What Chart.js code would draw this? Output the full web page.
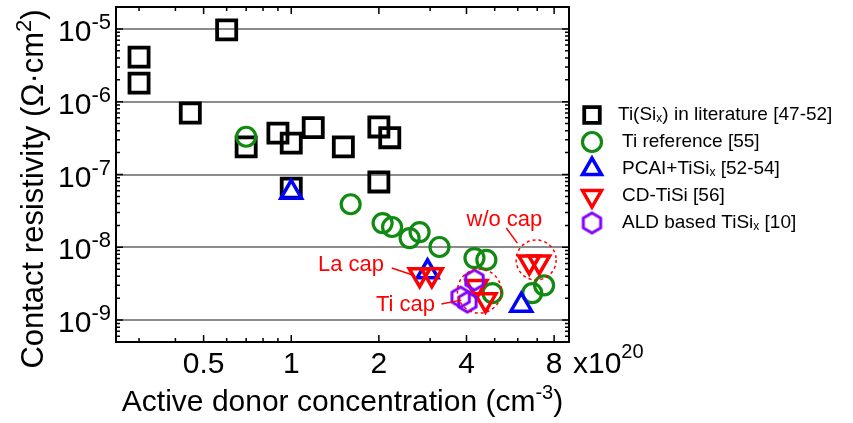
<!DOCTYPE html>
<html>
<head>
<meta charset="utf-8">
<script src="https://cdn.jsdelivr.net/npm/chart.js@4.4.1/dist/chart.umd.min.js"></script>
<style>
  html, body { margin: 0; padding: 0; background: #fff; }
  #wrap { width: 853px; height: 423px; position: relative; }
</style>
</head>
<body>
<div id="wrap"><canvas id="chart"></canvas></div>
<script>
// x in units of 1e20 cm^-3, y in ohm*cm^2
var seriesNames = ["Ti(Si_{x}) in literature [47-52]", "Ti reference [55]", "PCAI+TiSi_{x} [52-54]", "CD-TiSi [56]", "ALD based TiSi_{x} [10]"];

var litX = [0.30, 0.30, 0.60, 0.45, 0.70, 0.90, 1.00, 1.19, 1.51, 2.00, 2.18, 2.00, 1.00];
var litY = [4.1e-6, 1.8e-6, 9.7e-6, 7.0e-7, 2.4e-7, 3.7e-7, 2.7e-7, 4.4e-7, 2.4e-7, 4.5e-7, 3.2e-7, 7.9e-8, 6.5e-8];

var refX = [0.70, 1.60, 2.06, 2.22, 2.55, 2.76, 3.23, 4.26, 4.68, 4.91, 6.73, 7.39];
var refY = [3.3e-7, 3.9e-8, 2.15e-8, 1.9e-8, 1.34e-8, 1.62e-8, 1.01e-8, 7.1e-9, 6.7e-9, 2.35e-9, 2.35e-9, 3.0e-9];

var pcaiX = [1.00, 2.94, 6.17];
var pcaiY = [5.7e-8, 4.6e-9, 1.6e-9];

var cdX = [2.76, 3.04, 4.33, 4.65, 6.57, 7.11];
var cdY = [4.2e-9, 4.2e-9, 2.9e-9, 1.9e-9, 6.3e-9, 6.3e-9];

var aldX = [4.26, 3.82, 4.03];
var aldY = [3.55e-9, 2.07e-9, 1.77e-9];

var xTickValues = [0.3, 0.4, 0.5, 0.6, 0.7, 0.8, 0.9, 1, 2, 3, 4, 5, 6, 7, 8];
var xTickLabels = [0.5, 1, 2, 4, 8];
var yDecades = [-9, -8, -7, -6, -5];

var FONT = "'Liberation Sans', Arial, sans-serif";

function pts(xs, ys) {
  return xs.map(function(v, i) { return {x: v, y: ys[i]}; });
}

function hexagon(color, r, lw) {
  var c = document.createElement('canvas');
  var s = Math.ceil(2 * r + lw + 2);
  c.width = s; c.height = s;
  var g = c.getContext('2d');
  g.strokeStyle = color; g.lineWidth = lw;
  g.beginPath();
  for (var i = 0; i < 6; i++) {
    var a = Math.PI / 3 * i - Math.PI / 2;
    var px = s / 2 + r * Math.cos(a), py = s / 2 + r * Math.sin(a);
    if (i) g.lineTo(px, py); else g.moveTo(px, py);
  }
  g.closePath(); g.stroke();
  return c;
}
var hexStyle = hexagon('#8000ff', 10, 3);

function isDecade(v) {
  var l = Math.log10(v);
  return Math.abs(l - Math.round(l)) < 1e-6;
}

// text with ^{..} superscripts and _{..} subscripts
function drawRich(ctx, str, x, y, size, align, supScale, raise) {
  supScale = supScale || 0.65;
  raise = raise || 0.4;
  var parts = str.split(/(\^\{[^}]*\}|_\{[^}]*\})/).filter(function(p) { return p.length; });
  var items = parts.map(function(p) {
    var kind = p[0] === '^' ? 'sup' : (p[0] === '_' && p[1] === '{' ? 'sub' : 'n');
    var t = kind === 'n' ? p : p.slice(2, -1);
    var sz = kind === 'n' ? size : Math.round(size * supScale);
    ctx.font = sz + 'px ' + FONT;
    return {t: t, kind: kind, sz: sz, w: ctx.measureText(t).width};
  });
  var total = items.reduce(function(a, it) { return a + it.w; }, 0);
  var cx = align === 'center' ? x - total / 2 : (align === 'right' ? x - total : x);
  ctx.textAlign = 'left';
  items.forEach(function(it) {
    ctx.font = it.sz + 'px ' + FONT;
    var dy = it.kind === 'sup' ? -size * raise : (it.kind === 'sub' ? size * 0.22 : 0);
    ctx.fillText(it.t, cx, y + dy);
    cx += it.w;
  });
}

var decor = {
  id: 'decor',
  beforeDraw: function(chart) {
    var ctx = chart.ctx;
    ctx.save();
    ctx.fillStyle = '#fff';
    ctx.fillRect(0, 0, chart.width, chart.height);
    ctx.restore();
  },
  afterDatasetsDraw: function(chart) {
    var ctx = chart.ctx, a = chart.chartArea;
    var xs = chart.scales.x, ys = chart.scales.y;
    ctx.save();
    // inward tick marks on all four sides
    ctx.strokeStyle = '#000';
    ctx.lineWidth = 1.5;
    ctx.beginPath();
    xs.ticks.forEach(function(t) {
      var px = xs.getPixelForValue(t.value);
      var len = xTickLabels.indexOf(t.value) >= 0 ? 7 : 4;
      ctx.moveTo(px, a.bottom); ctx.lineTo(px, a.bottom - len);
      ctx.moveTo(px, a.top); ctx.lineTo(px, a.top + len);
    });
    ys.ticks.forEach(function(t) {
      var py = ys.getPixelForValue(t.value);
      var len = isDecade(t.value) ? 7 : 4;
      ctx.moveTo(a.left, py); ctx.lineTo(a.left + len, py);
      ctx.moveTo(a.right, py); ctx.lineTo(a.right - len, py);
    });
    ctx.stroke();

    // annotations
    var P = function(x, y) { return [xs.getPixelForValue(x), ys.getPixelForValue(y)]; };
    ctx.strokeStyle = '#ff0000';
    ctx.fillStyle = '#ff0000';
    ctx.lineWidth = 1.5;
    ctx.setLineDash([3, 3]);
    [[6.94, 6.7e-9, 20], [4.43, 2.5e-9, 22]].forEach(function(c) {
      var p = P(c[0], c[1]);
      ctx.beginPath(); ctx.arc(p[0], p[1], c[2], 0, Math.PI * 2); ctx.stroke();
    });
    ctx.setLineDash([]);
    [[2.215, 5.19e-9, 2.614, 4.16e-9], [3.28, 1.66e-9, 3.84, 1.88e-9], [5.48, 1.84e-8, 5.98, 1.14e-8]].forEach(function(l) {
      var p1 = P(l[0], l[1]), p2 = P(l[2], l[3]);
      ctx.beginPath(); ctx.moveTo(p1[0], p1[1]); ctx.lineTo(p2[0], p2[1]); ctx.stroke();
    });
    ctx.textBaseline = 'middle';
    [['La cap', 1.604, 5.7e-9], ['Ti cap', 2.47, 1.6e-9], ['w/o cap', 5.40, 2.37e-8]].forEach(function(t) {
      var p = P(t[1], t[2]);
      drawRich(ctx, t[0], p[0], p[1], 22, 'center');
    });
    ctx.restore();
  },
  afterDraw: function(chart) {
    var ctx = chart.ctx, a = chart.chartArea, ys = chart.scales.y;
    ctx.save();
    ctx.fillStyle = '#000';
    ctx.textBaseline = 'alphabetic';
    // y tick labels 10^n
    yDecades.forEach(function(e) {
      var py = ys.getPixelForValue(Math.pow(10, e));
      drawRich(ctx, '10^{' + e + '}', a.left - 5, py + 12, 30, 'right', 0.72);
    });
    // exponent of x axis
    drawRich(ctx, 'x10^{20}', 573, 373, 30, 'left', 0.66, 0.5);
    // axis titles
    drawRich(ctx, 'Active donor concentration (cm^{-3})', (a.left + a.right) / 2, 411, 30, 'center');
    ctx.save();
    ctx.translate(43, 189);
    ctx.rotate(-Math.PI / 2);
    drawRich(ctx, 'Contact resistivity (\u03A9\u00B7cm^{2})', 0, 0, 31, 'center', 0.7);
    ctx.restore();

    // legend
    ctx.textBaseline = 'middle';
    chart.data.datasets.forEach(function(ds, i) {
      var y = 115 + i * 27;
      ctx.save();
      ctx.strokeStyle = ds.pointBorderColor;
      ctx.fillStyle = 'rgba(0,0,0,0)';
      ctx.lineWidth = ds.pointBorderWidth;
      Chart.helpers.drawPoint(ctx, {
        pointStyle: ds.pointStyle,
        rotation: ds.pointRotation || 0,
        radius: Math.min(ds.pointRadius, 11),
        borderWidth: ds.pointBorderWidth
      }, 592, y);
      ctx.restore();
      ctx.fillStyle = '#000';
      drawRich(ctx, ds.label, i === 0 ? 618 : 622, y, 19, 'left');
    });
    ctx.restore();
  }
};

function logAxis(pos, min, max, size) {
  return {
    type: 'logarithmic', position: pos, min: min, max: max,
    ticks: {display: false},
    grid: {display: false, drawTicks: false},
    border: {display: true, color: '#000', width: 2},
    afterFit: function(s) { if (pos === 'top') s.height = size; else s.width = size; }
  };
}

new Chart(document.getElementById('chart'), {
  type: 'scatter',
  data: {
    datasets: [
      {label: seriesNames[0], data: pts(litX, litY), pointStyle: 'rect', pointRadius: 13.5,
       pointBorderColor: '#000', pointBackgroundColor: 'rgba(0,0,0,0)', pointBorderWidth: 3.8, order: 5},
      {label: seriesNames[1], data: pts(refX, refY), pointStyle: 'circle', pointRadius: 9.5,
       pointBorderColor: '#108a10', pointBackgroundColor: 'rgba(0,0,0,0)', pointBorderWidth: 3.2, order: 4},
      {label: seriesNames[2], data: pts(pcaiX, pcaiY), pointStyle: 'triangle', pointRadius: 12,
       pointBorderColor: '#0000ff', pointBackgroundColor: 'rgba(0,0,0,0)', pointBorderWidth: 3.5, order: 3},
      {label: seriesNames[3], data: pts(cdX, cdY), pointStyle: 'triangle', pointRotation: 180, pointRadius: 12,
       pointBorderColor: '#ff0000', pointBackgroundColor: 'rgba(0,0,0,0)', pointBorderWidth: 3.5, order: 2},
      {label: seriesNames[4], data: pts(aldX, aldY), pointStyle: hexStyle, pointRadius: 10,
       pointBorderColor: '#8000ff', pointBackgroundColor: 'rgba(0,0,0,0)', pointBorderWidth: 3, order: 1}
    ]
  },
  options: {
    responsive: true,
    maintainAspectRatio: false,
    animation: false,
    events: [],
    layout: {autoPadding: false, padding: {top: 7, right: 284, bottom: 0, left: 0}},
    plugins: {legend: {display: false}, tooltip: {enabled: false}},
    scales: {
      x: {
        type: 'logarithmic', position: 'bottom', min: 0.25, max: 9,
        afterBuildTicks: function(s) { s.ticks = xTickValues.map(function(v) { return {value: v}; }); },
        afterFit: function(s) { s.height = 81; },
        grid: {display: false, drawTicks: false},
        border: {display: true, color: '#000', width: 2},
        ticks: {
          autoSkip: false, maxRotation: 0, padding: 5, color: '#000',
          font: {family: FONT, size: 30},
          callback: function(v) { return xTickLabels.indexOf(v) >= 0 ? String(v) : ''; }
        }
      },
      x2: logAxis('top', 0.25, 9, 0),
      y: {
        type: 'logarithmic', position: 'left', min: 5e-10, max: 2e-5,
        afterBuildTicks: function(s) {
          var t = [];
          for (var e = -10; e <= -5; e++) {
            for (var m = 1; m <= 9; m++) {
              var v = m * Math.pow(10, e);
              if (v >= 5e-10 * 0.999 && v <= 2e-5 * 1.001) t.push({value: v});
            }
          }
          s.ticks = t;
        },
        afterFit: function(s) { s.width = 116; },
        grid: {
          drawTicks: false, lineWidth: 2,
          color: function(c) { return c.tick && isDecade(c.tick.value) ? '#8c8c8c' : 'rgba(0,0,0,0)'; }
        },
        border: {display: true, color: '#000', width: 2},
        ticks: {display: false}
      },
      y2: logAxis('right', 5e-10, 2e-5, 0)
    }
  },
  plugins: [decor]
});
</script>
</body>
</html>
